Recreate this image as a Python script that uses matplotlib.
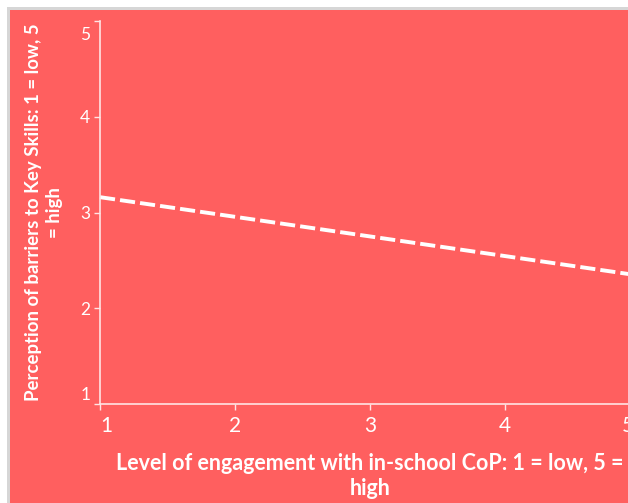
import matplotlib
matplotlib.use("Agg")
import matplotlib.pyplot as plt
from matplotlib.patches import Rectangle
from matplotlib.transforms import ScaledTranslation

# Data
x_vals = [1, 5]
y_vals = [3.16, 2.34]
x_ticks = [1, 2, 3, 4, 5]
y_ticks = [1, 2, 3, 4, 5]
x_title = "Level of engagement with in-school CoP: 1 = low, 5 =\nhigh"
y_title = "Perception of barriers to Key Skills: 1 = low, 5\n= high"

W, H = 628, 503
RED = "#FF5F5F"
AX_COL = "#FFE4E4"
plt.rcParams['font.family'] = ['Lato', 'DejaVu Sans']

fig = plt.figure(figsize=(W / 100, H / 100), dpi=100, facecolor="white")
fig.patches.append(Rectangle((7 / W, 0), 1, (H - 7) / H, transform=fig.transFigure,
                             facecolor="#D6D6D6", edgecolor="none", zorder=-10))
fig.patches.append(Rectangle((10 / W, 0), 1, (H - 10) / H, transform=fig.transFigure,
                             facecolor=RED, edgecolor="none", zorder=-9))

left, right_px, top, bottom = 100, 640, 21, 404
ax = fig.add_axes([left / W, (H - bottom) / H, (right_px - left) / W, (bottom - top) / H])
ax.set_facecolor("none")
ax.set_xlim(1, 5)
ax.set_ylim(1, 5)

ax.plot(x_vals, y_vals, color="white", lw=2.8, linestyle=(0, (3.9, 1.3)), clip_on=False)

for s in ["top", "right"]:
    ax.spines[s].set_visible(False)
for s in ["left", "bottom"]:
    ax.spines[s].set_color(AX_COL)
    ax.spines[s].set_linewidth(1.2)

ax.set_xticks(x_ticks)
ax.set_yticks(y_ticks)
ax.set_xticklabels([str(t) for t in x_ticks])
ax.set_yticklabels([str(t) for t in y_ticks])
ax.tick_params(axis="x", colors=AX_COL, labelcolor="white", labelsize=15, length=4, width=1, pad=5)
ax.tick_params(axis="y", colors=AX_COL, labelcolor="white", labelsize=12.5, length=4, width=1, pad=3)

def shift(lbl, dx, dy):
    lbl.set_transform(lbl.get_transform() + ScaledTranslation(dx / 100, dy / 100, fig.dpi_scale_trans))

xl = ax.get_xticklabels()
shift(xl[0], 6, 0)
shift(xl[-1], -12, 0)
yl = ax.get_yticklabels()
shift(yl[0], 0, 11)
shift(yl[-1], 0, -12)

ax.set_xlabel(x_title, color="white", fontsize=15.5, fontweight="bold", labelpad=12, linespacing=1.2)
ax.set_ylabel(y_title, color="white", fontsize=13.4, fontweight="bold", labelpad=12, linespacing=1.3)

fig.savefig("out.png", dpi=100, facecolor="white")
